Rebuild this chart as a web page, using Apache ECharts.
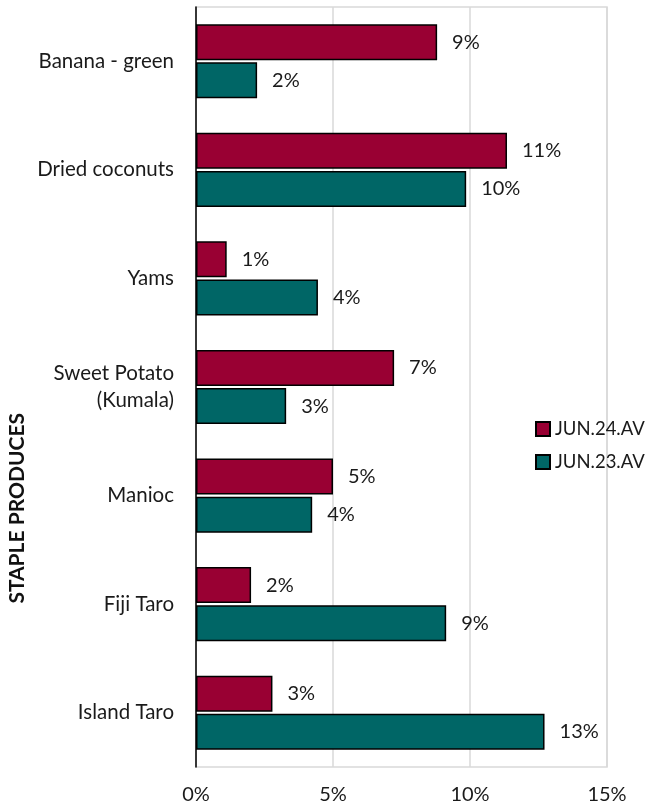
<!DOCTYPE html>
<html>
<head>
<meta charset="utf-8">
<script src="https://cdn.jsdelivr.net/npm/echarts@6/dist/echarts.min.js"></script>
<style>
html,body{margin:0;padding:0;background:#fff;}
#main{width:646px;height:807px;}
</style>
</head>
<body>
<div id="main"></div>
<script>
var categories = ['Banana - green', 'Dried coconuts', 'Yams', 'Sweet Potato\n(Kumala)', 'Manioc', 'Fiji Taro', 'Island Taro'];
var jun24 = [8.8, 11.35, 1.12, 7.23, 5.0, 2.01, 2.79];
var jun23 = [2.23, 9.86, 4.45, 3.29, 4.24, 9.13, 12.72];
var xTicks = [0, 5, 10, 15];

var font = 'Lato';
var chart = echarts.init(document.getElementById('main'));

function barLabel() {
  return {
    show: true,
    position: 'right',
    distance: 15,
    color: '#1a1a1a',
    fontFamily: font,
    fontSize: 20,
    formatter: function (p) { return Math.round(p.value) + '%'; }
  };
}

chart.setOption({
  animation: false,
  grid: {
    left: 196, right: 39, top: 7, bottom: 40,
    show: true, borderColor: '#d9d9d9', borderWidth: 1.5
  },
  legend: {
    orient: 'vertical',
    left: 530, top: 414,
    icon: 'rect',
    itemWidth: 14, itemHeight: 14, itemGap: 13,
    textStyle: { fontFamily: font, fontSize: 18.5, lineHeight: 20, color: '#1a1a1a' },
    data: ['JUN.24.AV', 'JUN.23.AV']
  },
  graphic: [{
    type: 'text',
    left: 7, top: 413,
    rotation: Math.PI / 2,
    style: { text: 'STAPLE PRODUCES', fontFamily: font, fontWeight: 'bold', fontSize: 21, fill: '#111' }
  }],
  xAxis: {
    type: 'value',
    min: xTicks[0], max: xTicks[xTicks.length - 1], interval: 5,
    axisLine: { show: false },
    axisTick: { show: false },
    splitLine: { lineStyle: { color: '#d9d9d9', width: 1.5 } },
    axisLabel: { formatter: '{value}%', margin: 18, fontFamily: font, fontSize: 20, color: '#1a1a1a' }
  },
  yAxis: {
    type: 'category',
    inverse: true,
    data: categories,
    axisLine: { lineStyle: { color: '#000', width: 1.5 } },
    axisTick: { show: false },
    axisLabel: { margin: 22, fontFamily: font, fontSize: 20.5, color: '#1a1a1a', lineHeight: 27 }
  },
  series: [{
    name: 'JUN.24.AV',
    type: 'bar',
    data: jun24,
    barWidth: 36,
    barGap: '6%',
    itemStyle: { color: '#990033', borderColor: '#000', borderWidth: 1.5 },
    label: barLabel()
  }, {
    name: 'JUN.23.AV',
    type: 'bar',
    data: jun23,
    barWidth: 36,
    barGap: '6%',
    itemStyle: { color: '#006666', borderColor: '#000', borderWidth: 1.5 },
    label: barLabel()
  }]
});
</script>
</body>
</html>
